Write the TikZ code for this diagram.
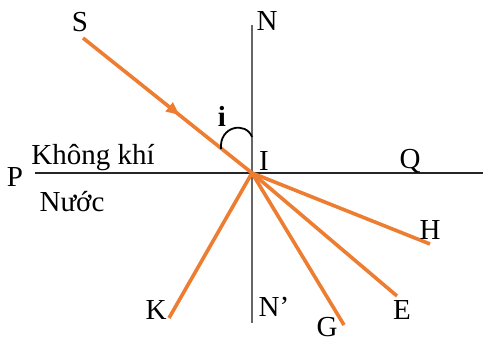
\documentclass[tikz,border=0pt]{standalone}
\usepackage{fontspec}
\setmainfont{Liberation Serif}
\usepackage{xcolor}
\usetikzlibrary{arrows.meta,decorations.markings}
\definecolor{rayorange}{HTML}{ED7D31}

\begin{document}
\begin{tikzpicture}[
  x=1pt, y=1pt,
  ray/.style={draw=rayorange, line width=3.6pt},
  normal/.style={draw=gray!80!black, line width=1.3pt},
  surface/.style={draw=black!85, line width=2.8pt},
  lbl/.style={font=\fontsize{29}{33}\selectfont, inner sep=0pt},
  midarrow/.style={postaction={decorate}, decoration={markings,
      mark=at position 0.57 with {\arrow{Triangle[length=13pt,width=11pt]}}}}
]
\useasboundingbox (0,0) rectangle (483,343);

% points
\coordinate (I)  at (252,170);
\coordinate (S)  at (83,305);
\coordinate (N)  at (252,318);
\coordinate (N2) at (252,20);
\coordinate (P)  at (35,170);
\coordinate (Q)  at (483,170);
\coordinate (K)  at (169,25);
\coordinate (H)  at (430,99);
\coordinate (E)  at (397,47);
\coordinate (G)  at (344,18);

% normal and surface
\draw[normal] (N) -- (N2);
\draw[surface] (P) -- (Q);

% incident ray and the other rays
\draw[ray, midarrow] (S) -- (I);
\draw[ray] (I) -- (K);
\draw[ray] (I) -- (H);
\draw[ray] (I) -- (E);
\draw[ray] (I) -- (G);

% angle mark
\draw[line width=1.8pt] (221,194) .. controls (219,217) and (246,222) .. (252,206);

% labels
\node[lbl] (lS)  at (80,321)  {S};
\node[lbl] (lN)  at (267,322) {N};
\node[lbl] (lN2) at (274,36)  {N’};
\node[lbl] (lP)  at (15,166)  {P};
\node[lbl] (lQ)  at (410,182) {Q};
\node[lbl] (lI)  at (264,182) {I};
\node[lbl, font=\fontsize{29}{33}\selectfont\bfseries] (li) at (222,227) {i};
\node[lbl] (lK)  at (156,33)  {K};
\node[lbl] (lH)  at (430,113) {H};
\node[lbl] (lE)  at (402,33)  {E};
\node[lbl] (lG)  at (327,16)  {G};
\node[lbl] (air)   at (93,185)  {Không khí};
\node[lbl] (water) at (72,141)  {Nước};
\end{tikzpicture}
\end{document}
